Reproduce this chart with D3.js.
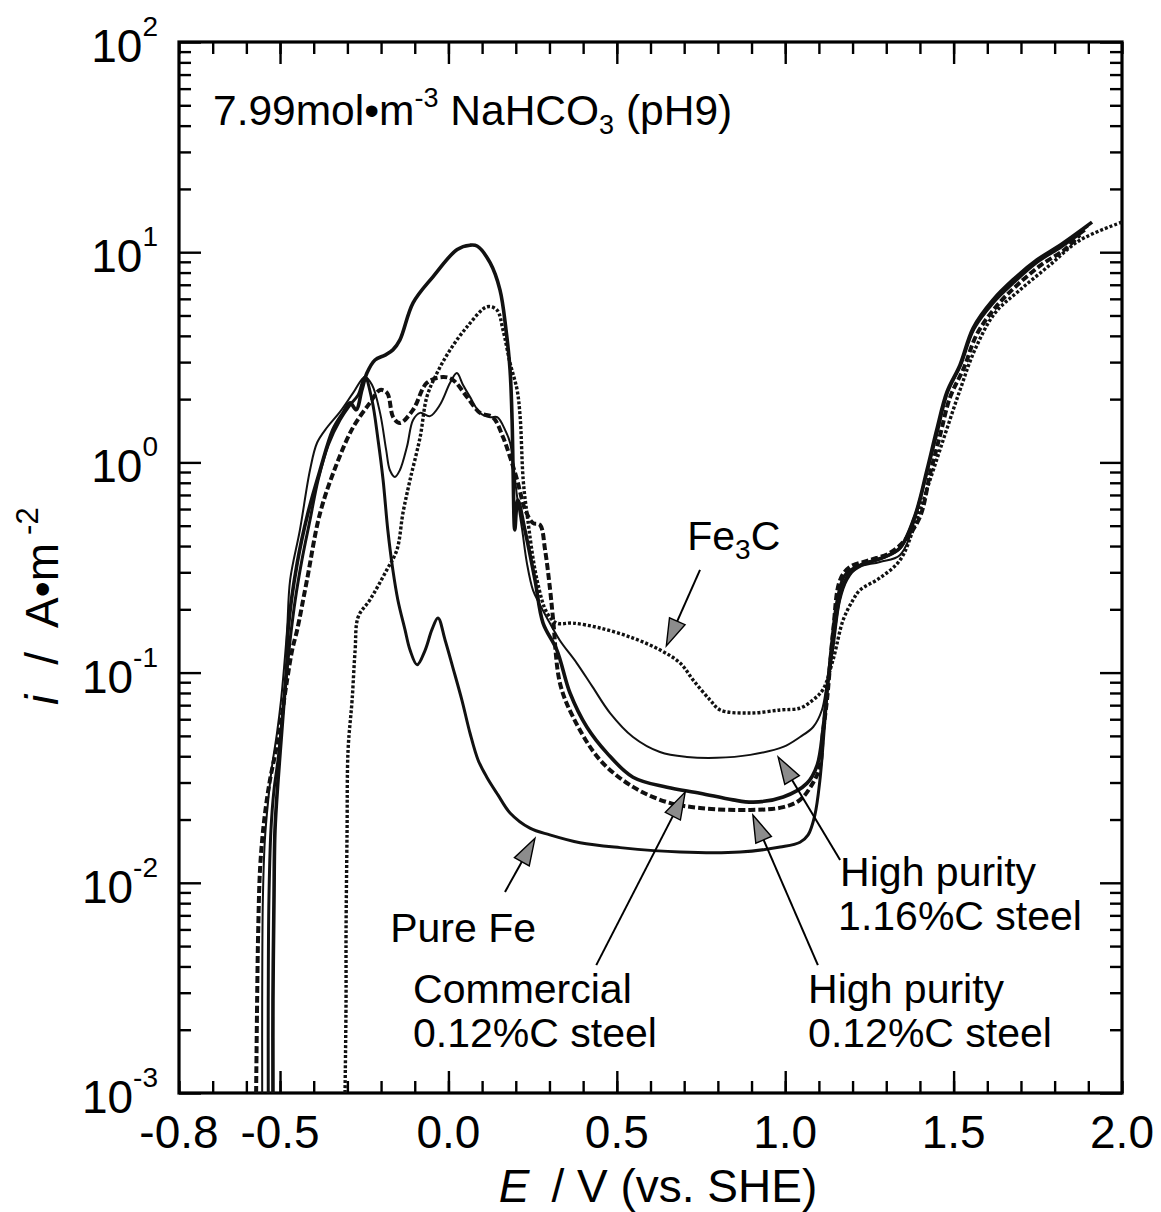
<!DOCTYPE html>
<html>
<head>
<meta charset="utf-8">
<script src="https://cdn.jsdelivr.net/npm/d3@7"></script>
<style>
  body { margin: 0; background: #fff; }
  svg { display: block; }
  text { font-family: "Liberation Sans", Arial, Helvetica, sans-serif; fill: #000; }
</style>
</head>
<body>
<svg id="chart" width="1161" height="1212"></svg>
<script>
// Anodic polarization curves in 7.99 mol·m^-3 NaHCO3 (pH 9)
// Each series: [E (V vs. SHE), i (A·m^-2)]

const pureFe = [
  [-0.535, 0.001], [-0.535, 0.00277], [-0.533, 0.00828], [-0.527, 0.0178], [-0.518, 0.0276],
  [-0.506, 0.0384], [-0.494, 0.0595], [-0.482, 0.0922], [-0.470, 0.143], [-0.455, 0.221],
  [-0.435, 0.343], [-0.411, 0.532], [-0.387, 0.825], [-0.357, 1.21], [-0.322, 1.59],
  [-0.292, 1.88], [-0.268, 2.09], [-0.248, 2.55], [-0.227, 1.98], [-0.209, 1.28],
  [-0.194, 0.825], [-0.180, 0.477], [-0.165, 0.308], [-0.150, 0.221], [-0.129, 0.16],
  [-0.114, 0.128], [-0.093, 0.109], [-0.069, 0.128], [-0.049, 0.16], [-0.031, 0.182],
  [-0.010, 0.143], [0.013, 0.106], [0.040, 0.074], [0.064, 0.0516], [0.088, 0.0384],
  [0.114, 0.0318], [0.147, 0.0262], [0.183, 0.0215], [0.242, 0.0182], [0.301, 0.0169],
  [0.391, 0.0155], [0.510, 0.0147], [0.688, 0.0140], [0.866, 0.0140], [0.985, 0.0148],
  [1.044, 0.0156], [1.068, 0.0169], [1.088, 0.021], [1.103, 0.0308], [1.118, 0.0595],
  [1.133, 0.115], [1.154, 0.221], [1.177, 0.291], [1.222, 0.325], [1.296, 0.355],
  [1.341, 0.392], [1.386, 0.56], [1.421, 0.9], [1.452, 1.4], [1.482, 2.15],
  [1.521, 2.9], [1.560, 4.3], [1.620, 5.8], [1.680, 7.2], [1.750, 9.0],
  [1.820, 10.6], [1.890, 12.7]
];

const commercial012C = [
  [-0.521, 0.001], [-0.521, 0.00277], [-0.518, 0.00828], [-0.515, 0.0178], [-0.506, 0.0308],
  [-0.497, 0.0479], [-0.488, 0.074], [-0.479, 0.115], [-0.476, 0.16], [-0.449, 0.332],
  [-0.417, 0.575], [-0.381, 0.92], [-0.343, 1.43], [-0.313, 1.72], [-0.292, 1.92],
  [-0.274, 1.78], [-0.257, 2.21], [-0.242, 2.66], [-0.218, 3.07], [-0.188, 3.24],
  [-0.165, 3.43], [-0.144, 3.83], [-0.105, 5.74], [-0.046, 7.64], [0.026, 10.3],
  [0.064, 10.8], [0.085, 10.7], [0.124, 8.89], [0.153, 6.62], [0.171, 4.27],
  [0.183, 2.75], [0.189, 1.59], [0.192, 0.92], [0.197, 0.477], [0.206, 0.662],
  [0.227, 0.477], [0.257, 0.276], [0.281, 0.172], [0.322, 0.128], [0.361, 0.08],
  [0.411, 0.0551], [0.471, 0.0414], [0.548, 0.0318], [0.649, 0.0285], [0.747, 0.0267],
  [0.845, 0.0248], [0.905, 0.0242], [0.994, 0.0256], [1.065, 0.0298], [1.095, 0.0363],
  [1.112, 0.0533], [1.124, 0.0828], [1.142, 0.143], [1.163, 0.234], [1.187, 0.291],
  [1.228, 0.325], [1.296, 0.355], [1.341, 0.392], [1.386, 0.562], [1.421, 0.92],
  [1.450, 1.43], [1.480, 2.16], [1.519, 2.91], [1.558, 4.36], [1.617, 5.93],
  [1.676, 7.38], [1.748, 9.2], [1.816, 10.8], [1.911, 13.9]
];

const highPurity012C = [
  [-0.571, 0.001], [-0.568, 0.00277], [-0.565, 0.00577], [-0.559, 0.0119], [-0.547, 0.0199],
  [-0.530, 0.0308], [-0.512, 0.0428], [-0.497, 0.0595], [-0.479, 0.0922], [-0.464, 0.128],
  [-0.449, 0.16], [-0.420, 0.276], [-0.381, 0.575], [-0.331, 0.99], [-0.283, 1.47],
  [-0.233, 1.92], [-0.203, 2.21], [-0.182, 2.14], [-0.164, 1.64], [-0.144, 1.54],
  [-0.105, 1.78], [-0.064, 2.39], [-0.016, 2.55], [0.013, 2.47], [0.055, 2.05],
  [0.094, 1.72], [0.132, 1.64], [0.162, 1.32], [0.183, 1.06], [0.204, 0.825],
  [0.228, 0.594], [0.251, 0.515], [0.272, 0.504], [0.287, 0.383], [0.302, 0.247],
  [0.311, 0.178], [0.331, 0.0893], [0.370, 0.0615], [0.450, 0.0384], [0.548, 0.0286],
  [0.649, 0.0242], [0.747, 0.0227], [0.896, 0.0222], [0.994, 0.0229], [1.044, 0.0248],
  [1.082, 0.0298], [1.103, 0.0356], [1.112, 0.0516], [1.124, 0.074], [1.142, 0.155],
  [1.163, 0.276], [1.192, 0.318], [1.251, 0.343], [1.311, 0.371], [1.356, 0.428],
  [1.400, 0.55], [1.430, 0.88], [1.460, 1.35], [1.490, 2.05], [1.530, 2.8],
  [1.570, 4.1], [1.630, 5.6], [1.690, 7.0], [1.760, 8.7], [1.830, 10.3], [1.875, 12.1]
];

const highPurity116C = [
  [-0.553, 0.001], [-0.553, 0.00277], [-0.551, 0.00828], [-0.545, 0.016], [-0.535, 0.0248],
  [-0.524, 0.0356], [-0.509, 0.0516], [-0.497, 0.074], [-0.488, 0.106], [-0.479, 0.16],
  [-0.470, 0.276], [-0.441, 0.477], [-0.411, 0.92], [-0.390, 1.24], [-0.360, 1.47],
  [-0.322, 1.74], [-0.283, 2.14], [-0.248, 2.55], [-0.227, 2.34], [-0.203, 1.72],
  [-0.185, 1.15], [-0.174, 0.92], [-0.159, 0.853], [-0.144, 0.92], [-0.123, 1.19],
  [-0.105, 1.59], [-0.084, 1.72], [-0.055, 1.66], [-0.025, 1.88], [0.005, 2.39],
  [0.025, 2.66], [0.043, 2.34], [0.064, 2.05], [0.094, 1.72], [0.124, 1.64],
  [0.145, 1.64], [0.168, 1.43], [0.183, 1.24], [0.204, 0.685], [0.219, 0.477],
  [0.233, 0.332], [0.251, 0.247], [0.272, 0.21], [0.291, 0.184], [0.330, 0.143],
  [0.381, 0.111], [0.428, 0.0855], [0.480, 0.0642], [0.548, 0.0494], [0.628, 0.0419],
  [0.708, 0.0397], [0.797, 0.0393], [0.896, 0.0406], [0.994, 0.0443], [1.044, 0.0494],
  [1.083, 0.0551], [1.109, 0.0664], [1.124, 0.0893], [1.142, 0.128], [1.163, 0.221],
  [1.184, 0.276], [1.213, 0.315], [1.281, 0.336], [1.341, 0.363], [1.390, 0.57],
  [1.420, 0.9], [1.450, 1.4], [1.480, 2.15], [1.520, 2.9], [1.560, 4.3],
  [1.620, 5.9], [1.680, 7.3], [1.750, 9.1], [1.820, 10.8], [1.900, 13.3]
];

const fe3C = [
  [-0.307, 0.001], [-0.304, 0.00277], [-0.304, 0.00577], [-0.301, 0.0173], [-0.298, 0.0428],
  [-0.286, 0.0741], [-0.277, 0.128], [-0.268, 0.184], [-0.233, 0.222], [-0.183, 0.308],
  [-0.153, 0.383], [-0.135, 0.575], [-0.114, 0.825], [-0.084, 1.32], [-0.064, 2.05],
  [-0.034, 2.66], [0.005, 3.43], [0.055, 4.41], [0.115, 5.5], [0.144, 5.31],
  [0.162, 4.27], [0.183, 2.97], [0.204, 2.21], [0.213, 1.64], [0.222, 0.825],
  [0.233, 0.575], [0.263, 0.276], [0.293, 0.192], [0.322, 0.172], [0.370, 0.172],
  [0.450, 0.163], [0.548, 0.146], [0.629, 0.128], [0.688, 0.111], [0.727, 0.092],
  [0.777, 0.074], [0.807, 0.0664], [0.896, 0.0642], [0.985, 0.0664], [1.044, 0.0678],
  [1.082, 0.074], [1.112, 0.083], [1.142, 0.115], [1.172, 0.178], [1.201, 0.221],
  [1.222, 0.247], [1.281, 0.282], [1.341, 0.343], [1.385, 0.505], [1.430, 0.826],
  [1.474, 1.35], [1.519, 2.21], [1.563, 3.43], [1.623, 5.14], [1.697, 6.61],
  [1.786, 8.69], [1.875, 11.4], [2.000, 13.9]
];

// Axis tick labels
const xTickLabels = [-0.8, -0.5, 0.0, 0.5, 1.0, 1.5, 2.0];
const yTickExponents = [2, 1, 0, -1, -2, -3];

// ---------------------------------------------------------------
const svg = d3.select("#chart");
const plot = { left: 179, right: 1122, top: 42, bottom: 1093 };

const x = d3.scaleLinear().domain([-0.8, 2.0]).range([plot.left, plot.right]);
const y = d3.scaleLog().domain([1e-3, 1e2]).range([plot.bottom, plot.top]);

// tick sets
const xMinor = d3.range(-8, 21).map(k => +(k / 10).toFixed(1));
const xMajor = [-0.5, 0.0, 0.5, 1.0, 1.5];
const yMajor = d3.range(-3, 3).map(e => Math.pow(10, e));
const yMinor = [];
for (let e = -3; e < 2; e++) for (let k = 2; k <= 9; k++) yMinor.push(k * Math.pow(10, e));

const minorLen = 12, majorLen = 22;
function tickAxis(gen, values, len, transform) {
  const g = svg.append("g")
    .attr("transform", transform)
    .call(gen.tickValues(values).tickSize(-len).tickFormat(""));
  g.select(".domain").remove();
  g.selectAll(".tick line").attr("stroke", "#000").attr("stroke-width", 2.4);
  return g;
}
// inward ticks on all four sides
tickAxis(d3.axisBottom(x), xMinor, minorLen, `translate(0,${plot.bottom})`);
tickAxis(d3.axisBottom(x), xMajor, majorLen, `translate(0,${plot.bottom})`);
tickAxis(d3.axisTop(x), xMinor, minorLen, `translate(0,${plot.top})`);
tickAxis(d3.axisTop(x), xMajor, majorLen, `translate(0,${plot.top})`);
tickAxis(d3.axisLeft(y), yMinor, minorLen, `translate(${plot.left},0)`);
tickAxis(d3.axisLeft(y), yMajor, majorLen, `translate(${plot.left},0)`);
tickAxis(d3.axisRight(y), yMinor, minorLen, `translate(${plot.right},0)`);
tickAxis(d3.axisRight(y), yMajor, majorLen, `translate(${plot.right},0)`);

// frame
svg.append("rect")
  .attr("x", plot.left).attr("y", plot.top)
  .attr("width", plot.right - plot.left).attr("height", plot.bottom - plot.top)
  .attr("fill", "none").attr("stroke", "#000").attr("stroke-width", 3.2);

// x tick labels
svg.append("g").selectAll("text").data(xTickLabels).join("text")
  .attr("x", d => x(d)).attr("y", 1148)
  .attr("text-anchor", "middle").attr("font-size", 46)
  .text(d => d.toFixed(1));

// y tick labels: 10^n
const yl = svg.append("g").selectAll("text").data(yTickExponents).join("text")
  .attr("x", 158).attr("y", d => y(Math.pow(10, d)) + 20)
  .attr("text-anchor", "end").attr("font-size", 46);
yl.append("tspan").text("10");
yl.append("tspan").attr("font-size", 28).attr("dy", -26).text(d => String(d));

// axis titles
const xt = svg.append("text").attr("x", 658).attr("y", 1202)
  .attr("text-anchor", "middle").attr("font-size", 46);
xt.append("tspan").attr("font-style", "italic").text("E");
xt.append("tspan").text("\u2009 / V (vs. SHE)");

const yt = svg.append("text").attr("transform", "translate(58,705) rotate(-90)")
  .attr("font-size", 46);
yt.append("tspan").attr("font-style", "italic").text("i");
yt.append("tspan").attr("dx", 30).text("/");
yt.append("tspan").attr("dx", 24).text("A\u2022m");
yt.append("tspan").attr("font-size", 31).attr("dx", 8).attr("dy", -20).text("-2");

// curves
svg.append("clipPath").attr("id", "plotClip").append("rect")
  .attr("x", plot.left).attr("y", plot.top)
  .attr("width", plot.right - plot.left).attr("height", plot.bottom - plot.top);

const line = d3.line()
  .x(d => x(d[0])).y(d => y(d[1]))
  .curve(d3.curveCatmullRom.alpha(0.5));

const series = [
  { data: fe3C,           width: 3.4, dash: "3,2",   color: "#111" },
  { data: highPurity116C, width: 2.0, dash: null,    color: "#111" },
  { data: highPurity012C, width: 4.0, dash: "7,3",   color: "#111" },
  { data: pureFe,         width: 3.0, dash: null,    color: "#111" },
  { data: commercial012C, width: 3.6, dash: null,    color: "#111" }
];
const curves = svg.append("g").attr("clip-path", "url(#plotClip)");
series.forEach(s => {
  curves.append("path")
    .attr("d", line(s.data))
    .attr("fill", "none")
    .attr("stroke", s.color)
    .attr("stroke-width", s.width)
    .attr("stroke-linejoin", "round")
    .attr("stroke-dasharray", s.dash);
});

// condition label
const cond = svg.append("text")
  .attr("x", x(-0.699)).attr("y", y(40.3)).attr("font-size", 42.5);
cond.append("tspan").text("7.99mol\u2022m");
cond.append("tspan").attr("font-size", 27).attr("dy", -18).text("-3");
cond.append("tspan").attr("dy", 18).text(" NaHCO");
cond.append("tspan").attr("font-size", 27).attr("dy", 9).text("3");
cond.append("tspan").attr("dy", -9).text(" (pH9)");

// arrows: tail -> tip, in data units
const arrows = [
  { from: [0.747, 0.308],  to: [0.647, 0.134] },   // Fe3C
  { from: [0.168, 0.00905], to: [0.257, 0.0163] }, // Pure Fe
  { from: [0.439, 0.00406], to: [0.703, 0.027] },  // Commercial
  { from: [1.097, 0.00406], to: [0.904, 0.021] },  // High purity 0.12%C
  { from: [1.163, 0.01285], to: [0.979, 0.0397] }  // High purity 1.16%C
];
const ag = svg.append("g");
arrows.forEach(a => {
  const x0 = x(a.from[0]), y0 = y(a.from[1]);
  const x1 = x(a.to[0]),   y1 = y(a.to[1]);
  const ang = Math.atan2(y1 - y0, x1 - x0);
  const L = 27, W = 8.5;
  const bx = x1 - L * Math.cos(ang), by = y1 - L * Math.sin(ang);
  ag.append("line").attr("x1", x0).attr("y1", y0).attr("x2", bx).attr("y2", by)
    .attr("stroke", "#000").attr("stroke-width", 2);
  const px = -Math.sin(ang) * W, py = Math.cos(ang) * W;
  ag.append("path")
    .attr("d", `M${x1},${y1}L${bx + px},${by + py}L${bx - px},${by - py}Z`)
    .attr("fill", "#8c8c8c").attr("stroke", "#000").attr("stroke-width", 1.4);
});

// series labels
const lab = svg.append("g").attr("font-size", 41);
const fe3cText = lab.append("text").attr("x", x(0.709)).attr("y", y(0.383));
fe3cText.append("tspan").text("Fe");
fe3cText.append("tspan").attr("font-size", 28).attr("dy", 9).text("3");
fe3cText.append("tspan").attr("dy", -9).text("C");

lab.append("text").attr("x", x(-0.173)).attr("y", y(0.00523)).text("Pure Fe");
lab.append("text").attr("x", x(-0.105)).attr("y", y(0.00268)).text("Commercial");
lab.append("text").attr("x", x(-0.105)).attr("y", y(0.00166)).text("0.12%C steel");
lab.append("text").attr("x", x(1.163)).attr("y", y(0.0097)).text("High purity");
lab.append("text").attr("x", x(1.157)).attr("y", y(0.00597)).text("1.16%C steel");
lab.append("text").attr("x", x(1.068)).attr("y", y(0.00268)).text("High purity");
lab.append("text").attr("x", x(1.068)).attr("y", y(0.00166)).text("0.12%C steel");
</script>
</body>
</html>
